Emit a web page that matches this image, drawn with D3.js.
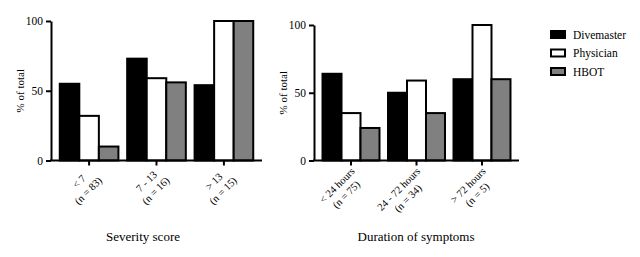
<!DOCTYPE html>
<html>
<head>
<meta charset="utf-8">
<script src="https://cdn.jsdelivr.net/npm/d3@7"></script>
<style>
  body { margin: 0; background: #fff; }
  svg text { font-family: "Liberation Serif", "Times New Roman", serif !important; fill: #000; }
</style>
</head>
<body>
<svg id="chart" width="640" height="257"></svg>
<script>
const series = ["Divemaster", "Physician", "HBOT"];
const fills = ["#000000", "#ffffff", "#808080"];

const severityLabels = [["< 7", "(n = 83)"], ["7 - 13", "(n = 16)"], ["> 13", "(n = 15)"]];
const severityDivemaster = [55, 73, 54];
const severityPhysician = [32, 59, 100];
const severityHBOT = [10, 56, 100];

const durationLabels = [["< 24 hours", "(n = 75)"], ["24 - 72 hours", "(n = 34)"], ["> 72 hours", "(n = 5)"]];
const durationDivemaster = [64, 50, 60];
const durationPhysician = [35, 59, 100];
const durationHBOT = [24, 35, 60];

const yTicks = [0, 50, 100];

const svg = d3.select("#chart");

function drawPanel(cfg) {
    const g = svg.append("g");
    const x0 = d3.scaleBand()
        .domain(d3.range(cfg.labels.length))
        .range([cfg.left, cfg.right])
        .paddingInner(0.13)
        .paddingOuter(0.13);
    const x1 = d3.scaleBand()
        .domain(series)
        .range([0, x0.bandwidth()])
        .padding(0);
    const y = d3.scaleLinear().domain([0, 100]).range([cfg.bottom, cfg.top]);

    // bars
    const groups = g.selectAll("g.grp")
        .data(cfg.labels.map((l, i) => series.map((s, j) => ({ s: s, j: j, v: cfg.values[j][i] }))))
        .enter().append("g")
        .attr("transform", (d, i) => `translate(${x0(i)},0)`);
    groups.selectAll("rect")
        .data(d => d)
        .enter().append("rect")
        .attr("x", d => x1(d.s))
        .attr("y", d => y(d.v))
        .attr("width", x1.bandwidth())
        .attr("height", d => y(0) - y(d.v))
        .attr("fill", d => fills[d.j])
        .attr("stroke", "#000")
        .attr("stroke-width", 2);

    // y axis
    const yAxis = g.append("g")
        .attr("transform", `translate(${cfg.left},0)`)
        .call(d3.axisLeft(y).tickValues(yTicks).tickSize(5).tickPadding(3).tickSizeOuter(0));
    yAxis.attr("font-family", null);
    yAxis.select(".domain").attr("stroke-width", 2);
    yAxis.selectAll(".tick line").attr("stroke-width", 2);
    yAxis.selectAll(".tick text")
        .attr("font-size", 11.5);

    g.append("text")
        .attr("transform", `translate(${cfg.left - 27},${(cfg.top + cfg.bottom) / 2}) rotate(-90)`)
        .attr("text-anchor", "middle")
        .attr("font-size", 11)
        .text("% of total");

    // x axis
    g.append("line")
        .attr("x1", cfg.left - 1).attr("x2", cfg.right)
        .attr("y1", cfg.bottom).attr("y2", cfg.bottom)
        .attr("stroke", "#000").attr("stroke-width", 2);
    cfg.labels.forEach((lines, i) => {
        const cx = x0(i) + x0.bandwidth() / 2;
        g.append("line")
            .attr("x1", cx).attr("x2", cx)
            .attr("y1", cfg.bottom).attr("y2", cfg.bottom + 5)
            .attr("stroke", "#000").attr("stroke-width", 2);
        const lab = g.append("g")
            .attr("transform", `translate(${cx + 2},${cfg.bottom + 9}) rotate(-45)`);
        const texts = lab.selectAll("text")
            .data(lines)
            .enter().append("text")
            .attr("font-size", 10.5)
            .attr("text-anchor", "middle")
            .attr("y", (d, k) => 3.5 + k * 13)
            .text(d => d);
        let w = 0;
        texts.each(function () { w = Math.max(w, this.getComputedTextLength()); });
        texts.attr("x", -w / 2);
    });

    g.append("text")
        .attr("x", cfg.titleX)
        .attr("y", 241)
        .attr("text-anchor", "middle")
        .attr("font-size", 13)
        .text(cfg.title);
}

drawPanel({
    left: 51, right: 262, top: 21, bottom: 160.5,
    labels: severityLabels,
    values: [severityDivemaster, severityPhysician, severityHBOT],
    title: "Severity score", titleX: 143
});

drawPanel({
    left: 314, right: 519, top: 25, bottom: 160.5,
    labels: durationLabels,
    values: [durationDivemaster, durationPhysician, durationHBOT],
    title: "Duration of symptoms", titleX: 416
});

// legend
const legend = svg.append("g").attr("transform", "translate(551,31)");
const item = legend.selectAll("g")
    .data(series)
    .enter().append("g")
    .attr("transform", (d, i) => `translate(0,${i * 18.5})`);
item.append("rect")
    .attr("width", 14).attr("height", 7)
    .attr("fill", (d, i) => fills[i])
    .attr("stroke", "#000").attr("stroke-width", 2);
item.append("text")
    .attr("x", 22).attr("y", 7.5)
    .attr("font-size", 11.5)
    .text(d => d);
</script>
</body>
</html>
